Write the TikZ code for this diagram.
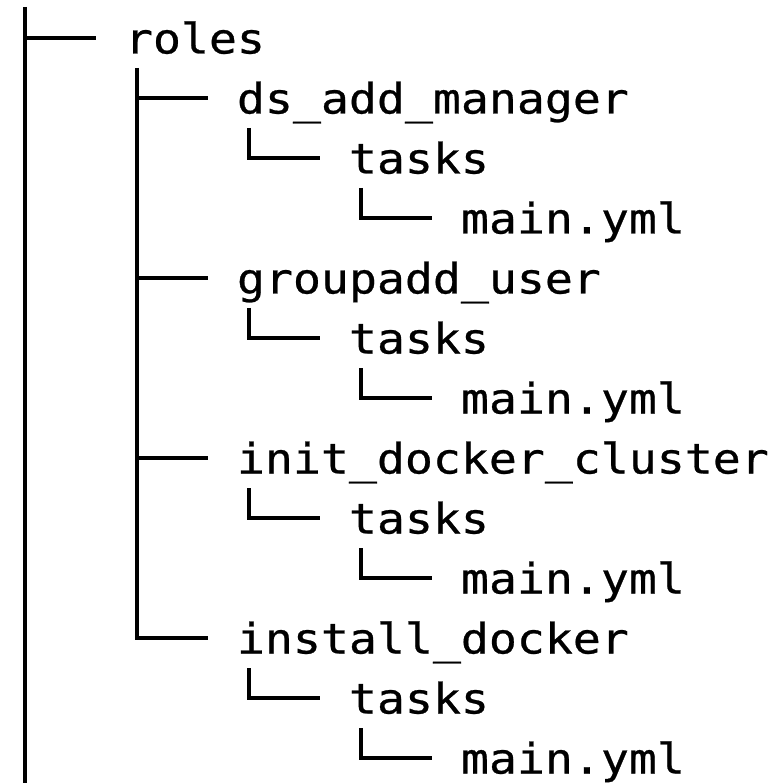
\documentclass[tikz,border=0pt]{standalone}
\usepackage{fontspec}
\newfontfamily\treefont[FakeStretch=1.107,FakeBold=0.6]{DejaVu Sans Mono}
\begin{document}
\begin{tikzpicture}[x=1pt,y=-1pt,
  tree/.style={line width=3.2pt, line join=miter, line cap=butt, black},
  lbl/.style={anchor=base west, inner sep=0pt, outer sep=0pt, font=\treefont\fontsize{42}{50}\selectfont}]
\useasboundingbox[fill=white] (0,0) rectangle (784,783);

% labels (row centre c = 38 + 60 i, baseline = c + 15.5)
\node[lbl] (roles) at (125,53.5)  {roles};
\node[lbl] (dsm)   at (237,113.5) {ds\_add\_manager};
\node[lbl] (t1)    at (349,173.5) {tasks};
\node[lbl] (m1)    at (461,233.5) {main.yml};
\node[lbl] (gu)    at (237,293.5) {groupadd\_user};
\node[lbl] (t2)    at (349,353.5) {tasks};
\node[lbl] (m2)    at (461,413.5) {main.yml};
\node[lbl] (idc)   at (237,473.5) {init\_docker\_cluster};
\node[lbl] (t3)    at (349,533.5) {tasks};
\node[lbl] (m3)    at (461,593.5) {main.yml};
\node[lbl] (ind)   at (237,653.5) {install\_docker};
\node[lbl] (t4)    at (349,713.5) {tasks};
\node[lbl] (m4)    at (461,773.5) {main.yml};

% stub ends (just left of each label)
\coordinate (roles-in) at (96,38);
\coordinate (dsm-in) at (208,98);
\coordinate (t1-in)  at (320,158);
\coordinate (m1-in)  at (432,218);
\coordinate (gu-in)  at (208,278);
\coordinate (t2-in)  at (320,338);
\coordinate (m2-in)  at (432,398);
\coordinate (idc-in) at (208,458);
\coordinate (t3-in)  at (320,518);
\coordinate (m3-in)  at (432,578);
\coordinate (ind-in) at (208,638);
\coordinate (t4-in)  at (320,698);
\coordinate (m4-in)  at (432,758);

% vertical trunks
\coordinate (L0top) at (25,7);
\coordinate (L0bot) at (25,783);
\coordinate (L1top) at (137,68);
\draw[tree] (L0top) -- (L0bot);
\draw[tree] (L0top |- roles-in) -- (roles-in);
\draw[tree] (L1top) |- (ind-in);
\draw[tree] (L1top |- dsm-in) -- (dsm-in);
\draw[tree] (L1top |- gu-in) -- (gu-in);
\draw[tree] (L1top |- idc-in) -- (idc-in);

% last-child corners
\foreach \c in {t1,t2,t3,t4,m1,m2,m3,m4} {
  \draw[tree] ([xshift=-71pt,yshift=30pt]\c-in) |- (\c-in);
}
\end{tikzpicture}
\end{document}
